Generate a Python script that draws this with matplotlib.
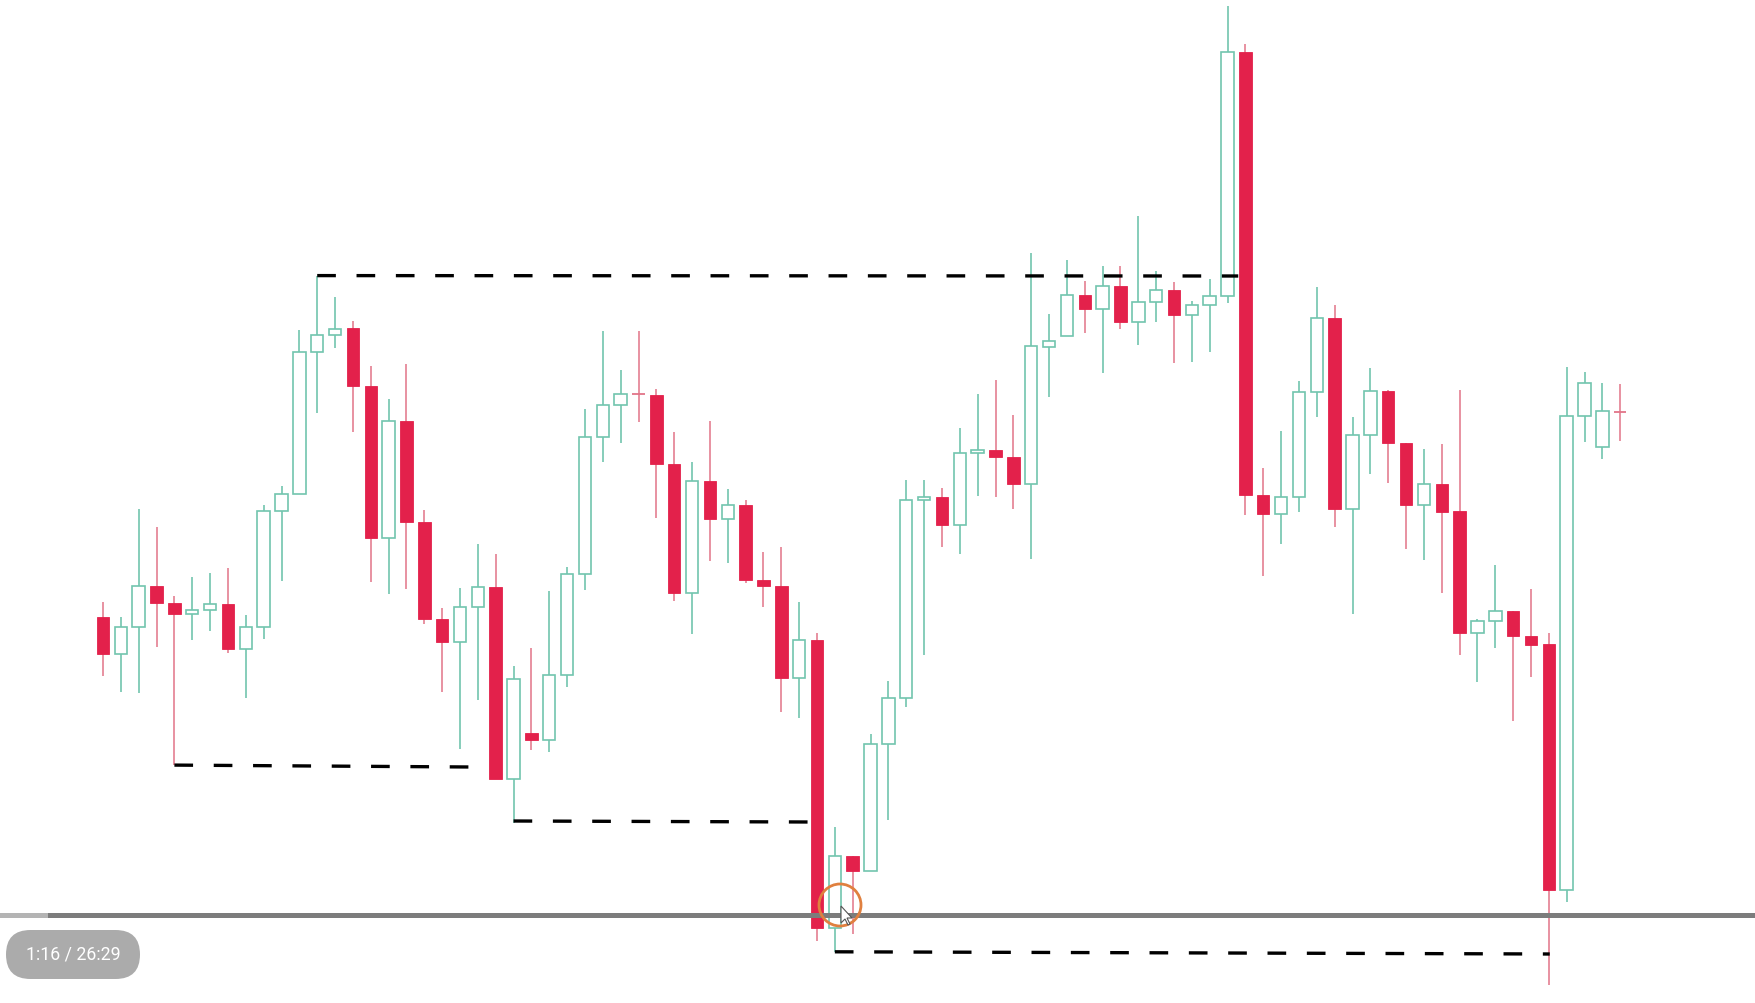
import matplotlib
matplotlib.use("Agg")
import matplotlib.pyplot as plt
from matplotlib.patches import Rectangle, FancyBboxPatch, Circle, Polygon

# ---------------- data (price units) ----------------
opens = [386.3, 348.7, 375.8, 417.3, 400.4, 389.1, 392.6, 399.0, 354.0, 376.5,
         491.8, 508.7, 651.4, 668.3, 674.6, 616.6, 464.7, 582.2, 481.0, 384.2,
         361.5, 396.3, 416.3, 224.5, 270.0, 263.4, 328.0, 428.8, 565.7, 598.3,
         609.4, 608.1, 539.0, 410.5, 522.0, 483.7, 498.2, 423.0, 416.8, 324.9,
         363.2, 75.1, 146.9, 132.5, 259.4, 304.8, 503.4, 505.8, 478.5, 549.9,
         552.7, 546.0, 518.8, 655.7, 667.3, 708.3, 694.0, 716.7, 680.7, 701.3,
         713.3, 688.0, 698.3, 707.3, 951.5, 508.0, 489.0, 506.3, 611.3, 684.7,
         494.0, 568.3, 611.7, 559.8, 497.6, 519.4, 491.7, 370.0, 382.0, 392.4,
         366.7, 359.0, 113.4, 587.0, 556.0, 591.8]
highs = [401.4, 386.3, 493.6, 476.3, 406.7, 426.0, 429.6, 434.9, 388.4, 498.1,
         517.1, 673.2, 727.4, 705.6, 681.7, 637.0, 603.6, 638.8, 493.5, 395.4,
         415.4, 458.7, 448.9, 337.4, 355.2, 411.9, 436.4, 593.8, 671.9, 632.6,
         671.9, 613.9, 571.5, 541.2, 582.2, 514.4, 503.4, 450.8, 456.5, 401.5,
         370.4, 175.6, 146.9, 269.0, 321.6, 522.6, 522.6, 515.4, 575.2, 608.7,
         623.1, 588.1, 749.9, 689.0, 743.3, 721.7, 737.3, 737.3, 786.7, 731.7,
         720.7, 702.3, 724.0, 997.1, 958.8, 534.7, 571.7, 622.3, 715.7, 698.0,
         585.7, 634.7, 612.6, 560.0, 554.3, 559.0, 613.0, 384.3, 437.7, 392.4,
         414.0, 370.0, 635.7, 631.0, 620.4, 619.5]
lows = [326.6, 311.1, 310.0, 355.7, 237.9, 362.8, 371.6, 349.8, 304.8, 363.8,
        422.2, 508.7, 590.2, 654.6, 570.6, 420.8, 409.5, 414.4, 379.3, 310.6,
        254.4, 302.6, 224.5, 180.0, 252.6, 251.3, 316.0, 413.2, 541.2, 560.4,
        581.3, 484.6, 402.0, 368.6, 441.8, 440.0, 419.7, 395.8, 291.4, 284.7,
        61.7, 51.2, 69.3, 132.5, 182.8, 296.2, 347.9, 455.6, 449.4, 507.3,
        505.8, 493.9, 443.6, 606.3, 667.3, 669.7, 629.7, 674.0, 658.0, 680.7,
        640.0, 640.7, 650.7, 700.3, 488.0, 426.7, 459.0, 491.3, 585.7, 475.7,
        389.0, 529.0, 520.0, 454.0, 443.5, 410.0, 348.5, 321.4, 354.8, 281.8,
        326.1, 18.0, 101.5, 560.8, 544.1, 562.2]
closes = [348.7, 376.5, 417.3, 400.4, 389.1, 392.6, 399.0, 354.0, 376.5, 491.8,
          508.7, 651.4, 668.3, 673.9, 616.6, 464.7, 582.2, 481.3, 384.2, 361.5,
          396.3, 416.3, 224.5, 324.0, 263.4, 328.0, 428.8, 565.7, 598.3, 609.4,
          608.0, 539.0, 410.5, 522.0, 483.7, 498.0, 423.0, 416.8, 324.9, 363.2,
          75.1, 146.9, 132.5, 259.4, 304.8, 503.4, 505.8, 478.5, 549.9, 552.7,
          546.0, 518.8, 656.6, 662.3, 708.3, 694.0, 716.7, 680.7, 701.3, 713.3,
          688.0, 698.3, 707.3, 951.5, 507.6, 489.0, 506.3, 611.3, 684.7, 494.0,
          568.3, 611.7, 559.8, 497.6, 519.4, 491.2, 370.0, 382.0, 392.4, 366.7,
          358.0, 113.4, 587.0, 620.4, 591.8, 591.0]

# hand-drawn support / resistance levels (start candle, end position, price at start, price at end)
level_start = [4, 12, 23, 41]
level_end = [20.6, 63.6, 39.55, 81.05]
level_p0 = [237.9, 727.4, 182.0, 51.2]
level_p1 = [236.0, 727.0, 181.0, 49.0]

time_label = "1:16 / 26:29"

# ---------------- styling ----------------
W, H = 1756, 1004
RED = "#e3214b"
RED_WICK = "#e27488"
GREEN = "#72c5ae"
STEP = 17.85      # px between candles
X0 = 103          # px of first candle

fig = plt.figure(figsize=(W / 100, H / 100), dpi=100)
fig.patch.set_facecolor("white")
ax = fig.add_axes([0, 0, 1, 1])
ax.set_xlim(-X0 / STEP, (W - X0) / STEP)
ax.set_ylim(0, H)
ax.axis("off")

bw = 0.70
for i, (o, h, l, c) in enumerate(zip(opens, highs, lows, closes)):
    up = c >= o
    top, bot = max(o, c), min(o, c)
    if up:
        ax.vlines(i, l, h, color=GREEN, lw=1.2, zorder=2)
        ax.add_patch(Rectangle((i - bw / 2, bot), bw, max(top - bot, 1.0),
                               facecolor="white", edgecolor=GREEN, lw=1.2, zorder=3))
    else:
        ax.vlines(i, l, h, color=RED_WICK, lw=1.1, zorder=2)
        hgt = top - bot
        if hgt < 2.5:
            ax.hlines((top + bot) / 2, i - bw / 2, i + bw / 2, color=RED_WICK, lw=1.3, zorder=3)
        else:
            ax.add_patch(Rectangle((i - bw / 2, bot), bw, hgt,
                                   facecolor=RED, edgecolor=RED, lw=0.6, zorder=3))

for s, e, p0, p1 in zip(level_start, level_end, level_p0, level_p1):
    ln, = ax.plot([s, e], [p0, p1], color="black", lw=2.4, zorder=4,
                  solid_capstyle="butt")
    ln.set_dashes((5.6, 6.2))
    ln.set_dash_capstyle("butt")

# ---------------- video UI overlay ----------------
def fx(px):
    return px / W

def fy(py):
    return 1 - py / H

# progress bar
fig.add_artist(Rectangle((fx(0), fy(919)), fx(48), 5 / H, transform=fig.transFigure,
                         facecolor="#b4b4b4", edgecolor="none", zorder=10))
fig.add_artist(Rectangle((fx(48), fy(919)), fx(W - 48), 5 / H, transform=fig.transFigure,
                         facecolor="#7c7c7c", edgecolor="none", zorder=10))

# time pill (drawn in pixel space)
pill = FancyBboxPatch((6, 1004 - 980), 134, 49,
                      boxstyle="round,pad=0,rounding_size=24.5",
                      transform=None, facecolor="#ababab", edgecolor="none", zorder=10)
fig.add_artist(pill)
fig.text(fx(73), fy(955), time_label, ha="center", va="center", color="white",
         fontsize=12.8, family="Roboto", zorder=11)

# orange click marker and cursor
fig.add_artist(Circle((840, 1004 - 906), 21, transform=None, facecolor="none",
                      edgecolor="#e0803f", lw=2.0, zorder=12))
cur = [(841, 907), (841, 924), (845, 920), (848, 926), (850, 925), (847, 919), (852, 919)]
fig.add_artist(Polygon([(x, 1004 - y) for x, y in cur], closed=True, transform=None,
                       facecolor="white", edgecolor="#555555", lw=0.8, zorder=13))

fig.savefig("out.png", dpi=100, facecolor="white")
